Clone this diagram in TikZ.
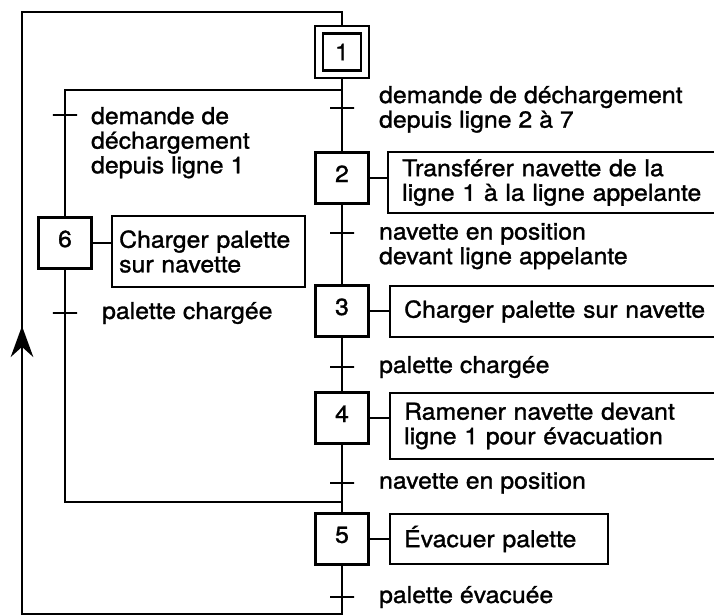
\documentclass[tikz,border=0pt]{standalone}
\usepackage{fontspec}
\setmainfont[FakeStretch=1.07,FakeBold=1.3]{TeX Gyre Heros}
\usetikzlibrary{arrows.meta}

\begin{document}
\begin{tikzpicture}[x=0.025cm, y=-0.025cm, line width=1.6pt,
    font=\fontsize{16.5}{17.5}\selectfont,
    etape/.style={draw, minimum width=1.33cm, minimum height=1.28cm, inner sep=0pt, text depth=6pt},
    transition/.style={draw, minimum width=0.6cm, minimum height=0pt, inner sep=0pt},
    action/.style={draw, anchor=west, align=left, inner xsep=10pt, inner ysep=0pt},
    recept/.style={align=left, inner sep=0pt}]
    \useasboundingbox (0,0) rectangle (714,614);

    % etapes
    \node[etape, minimum width=1.35cm, minimum height=1.3cm, text depth=0pt] (s1) at (342,52) {};
    \node[draw, minimum width=0.95cm, minimum height=0.93cm, inner sep=0pt] (s1in) at (s1) {1};
    \node[etape] (s2) at (342,178) {2};
    \node[etape] (s3) at (342,311) {3};
    \node[etape] (s4) at (342,418) {4};
    \node[etape] (s5) at (342,539) {5};
    \node[etape] (s6) at (65,243) {6};

    % transitions
    \node[transition] (t1) at (342,108) {};
    \node[transition] (t2) at (342,233) {};
    \node[transition] (t3) at (342,367) {};
    \node[transition] (t4) at (342,483) {};
    \node[transition] (t5) at (342,597) {};
    \node[transition] (t6a) at (65,115) {};
    \node[transition] (t6b) at (65,313) {};

    % actions
    \node[action, text width=7.9cm, minimum height=1.525cm] (a2) at (387,182.5)
        {Transférer navette de la\\ligne 1 à la ligne appelante};
    \node[action, text width=7.9cm, minimum height=1.275cm] (a3) at (389,311.5)
        {Charger palette sur navette};
    \node[action, text width=7.9cm, minimum height=1.65cm] (a4) at (389,426)
        {Ramener navette devant\\ligne 1 pour évacuation};
    \node[action, text width=4.74cm, minimum height=1.25cm] (a5) at (389,539)
        {Évacuer palette};
    \node[action, inner xsep=5pt, text width=4.47cm, minimum height=1.775cm] (a6) at (111,251.5)
        {Charger palette\\sur navette};

    % receptivites
    \node[recept, anchor=north west] (r1) at (378,85) {demande de déchargement\\depuis ligne 2 à 7};
    \node[recept, anchor=north west] (r2) at (378,222) {navette en position\\devant ligne appelante};
    \node[recept, anchor=west] (r3) at (378,367) {palette chargée};
    \node[recept, anchor=west] (r4) at (378,483) {navette en position};
    \node[recept, anchor=west] (r5) at (378,597) {palette évacuée};
    \node[recept, anchor=north west] (r6a) at (90,106) {demande de\\déchargement\\depuis ligne 1};
    \node[recept, anchor=west] (r6b) at (101,313) {palette chargée};

    % liaisons
    \coordinate (divG) at (65,90);
    \coordinate (divD) at (342,90);
    \coordinate (convG) at (65,502);
    \coordinate (convD) at (342,502);
    \coordinate (basD) at (342,614.5);
    \coordinate (basG) at (22,614.5);
    \coordinate (hautG) at (22,12);
    \coordinate (hautD) at (342,12);
    \coordinate (fleche) at (22,326);

    \draw (s1) -- (t1) -- (s2) -- (t2) -- (s3) -- (t3) -- (s4) -- (t4) -- (s5) -- (t5) -- (basD)
        -- (basG) -- (hautG) -- (hautD) -- (s1);
    \draw[-{Stealth[length=22pt,width=16pt]}] (basG) -- (fleche);
    \draw (divD) -- (divG) -- (t6a) -- (s6) -- (t6b) -- (convG) -- (convD);

    \draw (s2.east) -- (s2.east -| a2.west);
    \draw (s3.east) -- (s3.east -| a3.west);
    \draw (s4.east) -- (s4.east -| a4.west);
    \draw (s5.east) -- (s5.east -| a5.west);
    \draw (s6.east) -- (s6.east -| a6.west);
\end{tikzpicture}
\end{document}
